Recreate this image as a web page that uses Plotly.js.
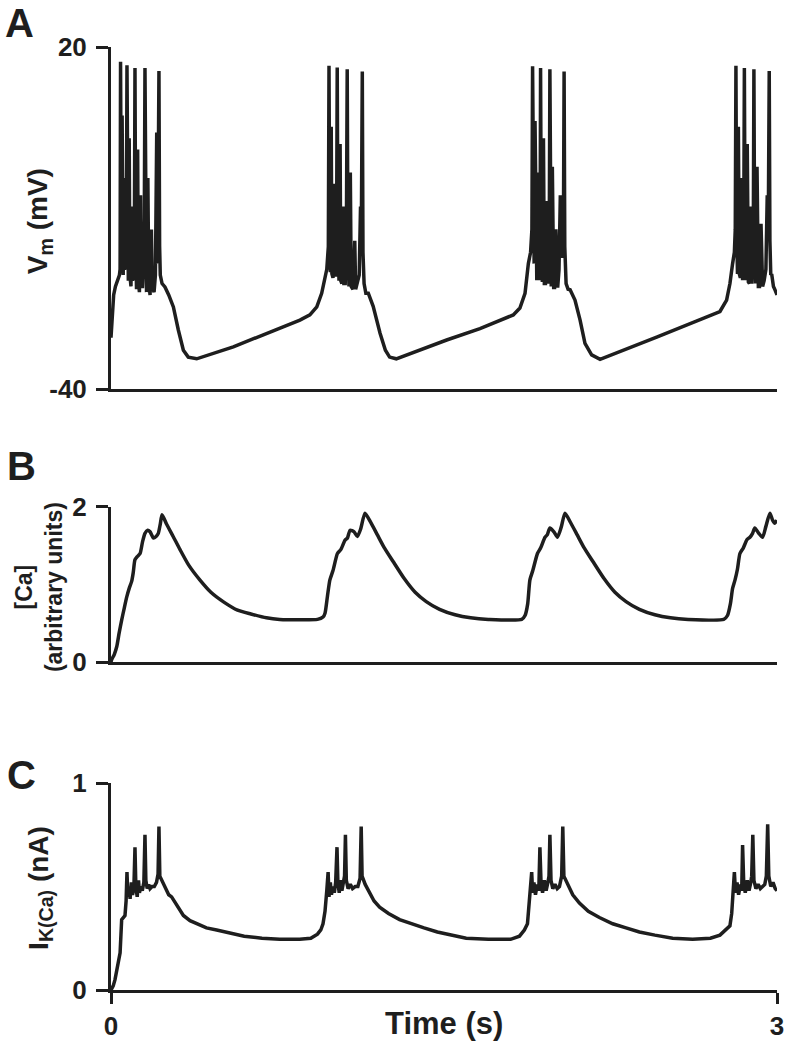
<!DOCTYPE html>
<html>
<head>
<meta charset="utf-8">
<script src="https://cdn.plot.ly/plotly-3.0.1.min.js"></script>
<style>
  html, body { margin: 0; padding: 0; background: #fff; }
  #chart { width: 786px; height: 1046px; }
</style>
</head>
<body>
<div id="chart"></div>
<script>
// Panel A: membrane potential (mV) vs time (s)
const tA = [
  0.000, 0.005, 0.012, 0.020, 0.030, 0.038, 0.041, 0.043, 0.046, 0.048, 0.050, 0.052, 0.055, 0.058, 0.061,
  0.066, 0.069, 0.072, 0.075, 0.078, 0.082, 0.085, 0.090, 0.094, 0.097, 0.102, 0.105, 0.108, 0.111, 0.115,
  0.120, 0.123, 0.128, 0.133, 0.136, 0.142, 0.147, 0.150, 0.153, 0.156, 0.160, 0.166, 0.170, 0.176, 0.182,
  0.186, 0.194, 0.200, 0.206, 0.210, 0.213, 0.216, 0.219, 0.222, 0.230, 0.243, 0.260, 0.281, 0.303, 0.326,
  0.348, 0.386, 0.551, 0.701, 0.851, 0.896, 0.927, 0.949, 0.964,
  0.972, 0.979, 0.982, 0.985, 0.988, 0.992, 0.995, 1.000, 1.004, 1.007, 1.012, 1.016, 1.019, 1.022, 1.027,
  1.032, 1.035, 1.040, 1.046, 1.049, 1.055, 1.060, 1.064, 1.067, 1.072, 1.078, 1.082, 1.090, 1.098, 1.102,
  1.110, 1.118, 1.124, 1.128, 1.132, 1.135, 1.140, 1.148, 1.159, 1.181, 1.212, 1.236, 1.255, 1.285, 1.512,
  1.662, 1.812, 1.842, 1.865, 1.880,
  1.890, 1.896, 1.899, 1.902, 1.906, 1.910, 1.914, 1.918, 1.922, 1.926, 1.930, 1.933, 1.935, 1.938, 1.943,
  1.948, 1.952, 1.957, 1.962, 1.968, 1.974, 1.977, 1.980, 1.983, 1.988, 1.994, 1.998, 2.004, 2.012, 2.018,
  2.024, 2.030, 2.035, 2.038, 2.041, 2.044, 2.050, 2.059, 2.068, 2.090, 2.113, 2.135, 2.165, 2.203, 2.458,
  2.713, 2.743, 2.773, 2.788, 2.800,
  2.808, 2.812, 2.815, 2.818, 2.822, 2.826, 2.830, 2.835, 2.840, 2.845, 2.850, 2.853, 2.856, 2.861, 2.866,
  2.871, 2.876, 2.881, 2.887, 2.893, 2.896, 2.899, 2.904, 2.910, 2.916, 2.921, 2.928, 2.935, 2.942, 2.950,
  2.956, 2.961, 2.965, 2.968, 2.972, 2.976, 2.984, 2.991, 3.000
];
const vA = [
  -31, -27, -23.5, -22, -21, -20, -19, 17.4, -10, -18, 8, -17, -20, -3, -19,
  -18.5, -15, 16.8, -12, -21, 4, -20, -22, -8, -21, -20, -16, 16.3, -14, -22.5,
  2, -21, -23, -6, -22, -22, -18, -10, 16.3, -12, -23, -3, -21, -23.5, -12,
  -22, -23, -20, 5, -18, -5, 15.8, -15, -20, -21.5, -22.1, -23.5, -25.6, -29.6, -33.2,
  -34.4, -34.7, -32.6, -30.2, -27.9, -27, -25.6, -23.2, -20.3,
  -19, -15, 16.7, -12, -19.5, 6, -19.8, -20.5, -4, -20, -20, -14, 16.4, -12, -21,
  3, -21, -21.5, -8, -21.5, -21.5, -15, 16.1, -13, -22, -2, -22, -22.5, -14, -22.5,
  -21.5, -20, -8, -10, 15.7, -16, -21.5, -23.2, -23.2, -25.5, -30.2, -33.2, -34.4, -34.7, -31.4,
  -29.4, -27, -25.8, -23.2, -18,
  -16, -12, 16.6, -11, -18, 7, -19.5, -20.9, -2, -20.5, -20.9, -13, 16.3, -12, -21.2,
  4, -21.5, -21.5, -7, -21.5, -15, 16.1, -13, -22, -1, -22.2, -22.2, -12, -22.2, -19.1,
  -6, -17, -10, -12, 15.7, -15, -21.5, -22.5, -22.6, -24.4, -27.9, -32, -34, -34.8, -30.9,
  -27, -26.4, -24.4, -21.5, -18,
  -16, -12, 16.7, -11, -19.8, 6, -19.8, -20.5, -3, -20.9, -14, 16.3, -12, -20.9, 3,
  -21.2, -21.5, -8, -21.5, -15, 16.1, -13, -21.5, -1, -22, -22, -11, -22, -21, -19,
  -6, -10, 15.8, -14, -20, -19.8, -22, -22.6, -23.5
];

// Panel B: [Ca] (arbitrary units) vs time (s)
const tB = [
  0.000, 0.003, 0.015, 0.026, 0.037, 0.048, 0.060, 0.071, 0.082, 0.093, 0.100, 0.108, 0.118, 0.131, 0.142,
  0.153, 0.165, 0.176, 0.191, 0.203, 0.213, 0.222, 0.230, 0.250, 0.280, 0.311, 0.350, 0.400, 0.450, 0.510,
  0.570, 0.630, 0.700, 0.760, 0.930,
  0.955, 0.964, 0.975, 0.986, 1.000, 1.020, 1.035, 1.054, 1.065, 1.077, 1.095, 1.110, 1.125, 1.144, 1.170,
  1.200, 1.230, 1.270, 1.320, 1.370, 1.420, 1.480, 1.550, 1.620, 1.700, 1.850,
  1.865, 1.877, 1.887, 1.900, 1.921, 1.935, 1.955, 1.965, 1.977, 1.995, 2.011, 2.028, 2.045, 2.070, 2.100,
  2.130, 2.170, 2.220, 2.270, 2.320, 2.380, 2.450, 2.520, 2.600, 2.760,
  2.777, 2.790, 2.800, 2.811, 2.822, 2.833, 2.848, 2.865, 2.878, 2.890, 2.900, 2.918, 2.935, 2.950, 2.968,
  2.980, 2.990, 3.000
];
const cB = [
  0.00, 0.03, 0.10, 0.20, 0.38, 0.54, 0.70, 0.84, 0.95, 1.04, 1.15, 1.32, 1.36, 1.40, 1.55,
  1.66, 1.70, 1.68, 1.60, 1.62, 1.66, 1.78, 1.90, 1.78, 1.62, 1.45, 1.25, 1.06, 0.90, 0.77,
  0.67, 0.62, 0.57, 0.55, 0.55,
  0.58, 0.63, 0.85, 1.06, 1.18, 1.40, 1.45, 1.57, 1.60, 1.70, 1.68, 1.62, 1.72, 1.92, 1.80,
  1.64, 1.48, 1.30, 1.08, 0.90, 0.78, 0.68, 0.61, 0.57, 0.55, 0.55,
  0.60, 0.75, 1.06, 1.18, 1.40, 1.47, 1.61, 1.64, 1.73, 1.68, 1.61, 1.74, 1.92, 1.80, 1.64,
  1.48, 1.30, 1.08, 0.90, 0.78, 0.68, 0.61, 0.57, 0.55, 0.55,
  0.60, 0.75, 0.95, 1.06, 1.20, 1.40, 1.47, 1.58, 1.61, 1.66, 1.73, 1.66, 1.61, 1.75, 1.92,
  1.83, 1.79, 1.83
];

// Panel C: I_K(Ca) (nA) vs time (s)
const tC = [
  0.000, 0.010, 0.018, 0.030, 0.041, 0.048, 0.055, 0.063, 0.068, 0.072, 0.076, 0.082, 0.086, 0.092, 0.097,
  0.103, 0.108, 0.112, 0.118, 0.124, 0.128, 0.135, 0.141, 0.148, 0.153, 0.157, 0.163, 0.170, 0.176, 0.185,
  0.195, 0.205, 0.212, 0.216, 0.220, 0.232, 0.245, 0.260, 0.273, 0.300, 0.326, 0.356, 0.386, 0.430, 0.476,
  0.536, 0.600, 0.680, 0.760, 0.850, 0.900, 0.930, 0.945, 0.955, 0.964, 0.972,
  0.978, 0.982, 0.988, 0.993, 1.000, 1.006, 1.012, 1.018, 1.022, 1.028, 1.035, 1.040, 1.047, 1.052, 1.056,
  1.060, 1.068, 1.078, 1.088, 1.100, 1.112, 1.122, 1.127, 1.131, 1.145, 1.160, 1.185, 1.210, 1.250, 1.300,
  1.350, 1.410, 1.470, 1.530, 1.600, 1.700, 1.800, 1.840, 1.862, 1.876, 1.883, 1.887,
  1.895, 1.899, 1.905, 1.912, 1.920, 1.927, 1.932, 1.937, 1.944, 1.952, 1.960, 1.968, 1.973, 1.977, 1.982,
  1.990, 2.000, 2.010, 2.020, 2.030, 2.035, 2.040, 2.056, 2.080, 2.110, 2.150, 2.200, 2.260, 2.320, 2.380,
  2.450, 2.530, 2.620, 2.700, 2.743, 2.770, 2.788, 2.796, 2.802,
  2.808, 2.813, 2.820, 2.827, 2.835, 2.841, 2.845, 2.850, 2.857, 2.866, 2.874, 2.882, 2.886, 2.891, 2.896,
  2.905, 2.915, 2.925, 2.935, 2.945, 2.952, 2.958, 2.963, 2.972, 2.982, 2.992, 3.000
];
const iC = [
  0.00, 0.02, 0.05, 0.11, 0.18, 0.34, 0.35, 0.36, 0.43, 0.57, 0.45, 0.50, 0.44, 0.52, 0.46,
  0.49, 0.69, 0.50, 0.45, 0.53, 0.47, 0.50, 0.48, 0.52, 0.75, 0.53, 0.49, 0.51, 0.49, 0.50,
  0.50, 0.52, 0.56, 0.79, 0.55, 0.52, 0.49, 0.46, 0.45, 0.40, 0.36, 0.335, 0.32, 0.30, 0.29,
  0.275, 0.26, 0.25, 0.245, 0.245, 0.25, 0.27, 0.29, 0.32, 0.38, 0.48,
  0.57, 0.45, 0.52, 0.46, 0.50, 0.47, 0.52, 0.69, 0.52, 0.47, 0.53, 0.48, 0.52, 0.55, 0.75,
  0.53, 0.49, 0.51, 0.49, 0.50, 0.50, 0.54, 0.79, 0.55, 0.51, 0.48, 0.43, 0.40, 0.37, 0.34,
  0.32, 0.30, 0.28, 0.265, 0.25, 0.245, 0.245, 0.26, 0.29, 0.32, 0.40, 0.48,
  0.57, 0.47, 0.52, 0.46, 0.51, 0.48, 0.69, 0.52, 0.47, 0.53, 0.48, 0.52, 0.55, 0.75, 0.53,
  0.49, 0.51, 0.49, 0.50, 0.55, 0.79, 0.55, 0.51, 0.46, 0.42, 0.38, 0.35, 0.32, 0.30, 0.28,
  0.265, 0.25, 0.245, 0.25, 0.265, 0.29, 0.31, 0.37, 0.48,
  0.57, 0.47, 0.52, 0.46, 0.51, 0.48, 0.70, 0.52, 0.47, 0.53, 0.48, 0.52, 0.55, 0.75, 0.53,
  0.49, 0.51, 0.49, 0.50, 0.51, 0.55, 0.80, 0.55, 0.50, 0.52, 0.49, 0.48
];

const ink = '#1e1e1e';
const fam = '"Liberation Sans", Arial, sans-serif';
const traceLine = { color: ink, width: 3.5 };

const traces = [
  { x: tA, y: vA, xaxis: 'x', yaxis: 'y', type: 'scatter', mode: 'lines', line: traceLine, hoverinfo: 'skip' },
  // calcium is slow and smooth, so let the spline round off the corners
  { x: tB, y: cB, xaxis: 'x2', yaxis: 'y2', type: 'scatter', mode: 'lines',
    line: { color: ink, width: 3.5, shape: 'spline', smoothing: 0.6 }, hoverinfo: 'skip' },
  { x: tC, y: iC, xaxis: 'x3', yaxis: 'y3', type: 'scatter', mode: 'lines', line: traceLine, hoverinfo: 'skip' }
];

const tickFont = { family: fam, size: 26, color: ink, weight: 700 };

function xAx(anchor, withTicks) {
  const ax = {
    anchor: anchor, range: [0, 3], showgrid: false, zeroline: false,
    showline: true, linecolor: ink, linewidth: 3, fixedrange: true
  };
  if (withTicks) {
    Object.assign(ax, { ticks: 'outside', tickvals: [0, 3], ticktext: ['0', '3'], ticklen: 11,
                        tickwidth: 3, tickcolor: ink, tickfont: tickFont });
  } else {
    Object.assign(ax, { ticks: '', showticklabels: false });
  }
  return ax;
}
function yAx(anchor, domain, range) {
  return {
    anchor: anchor, domain: domain, range: range, showgrid: false, zeroline: false,
    showline: true, linecolor: ink, linewidth: 3,
    ticks: 'outside', tickvals: range, ticktext: range.map(String), ticklen: 12, tickwidth: 3,
    tickcolor: ink, tickfont: tickFont, ticklabelstandoff: 4, fixedrange: true
  };
}

// paper coords: x = (px - 111) / 666, y = (990 - py) / 943
const letterFont = { family: fam, size: 40, color: ink, weight: 700 };
const titleFont = { family: fam, size: 28, color: ink, weight: 700 };
function note(text, x, y, font, angle) {
  return { text: text, xref: 'paper', yref: 'paper', x: x, y: y, xanchor: 'center', yanchor: 'middle',
           showarrow: false, font: font, textangle: angle || 0 };
}

const layout = {
  width: 786, height: 1046,
  margin: { l: 111, r: 9, t: 47, b: 56 },
  paper_bgcolor: '#fff', plot_bgcolor: '#fff',
  showlegend: false,
  xaxis: xAx('y', false),
  xaxis2: xAx('y2', false),
  xaxis3: xAx('y3', true),
  yaxis: yAx('x', [0.6373, 1], [-40, 20]),
  yaxis2: yAx('x2', [0.3478, 0.5122], [0, 2]),
  yaxis3: yAx('x3', [0, 0.2195], [0, 1]),
  annotations: [
    note('A', -0.137, 1.025, letterFont),
    note('B', -0.134, 0.556, letterFont),
    note('C', -0.134, 0.228, letterFont),
    note('V<sub>m</sub> (mV)', -0.107, 0.815, titleFont, -90),
    note('[Ca]<br>(arbitrary units)', -0.107, 0.427, { family: fam, size: 23, color: ink, weight: 700 }, -90),
    note('I<sub>K(Ca)</sub> (nA)', -0.107, 0.108, titleFont, -90),
    note('Time (s)', 0.5, -0.035, { family: fam, size: 31, color: ink, weight: 700 })
  ]
};

Plotly.newPlot('chart', traces, layout, { staticPlot: true, displayModeBar: false });
</script>
</body>
</html>
